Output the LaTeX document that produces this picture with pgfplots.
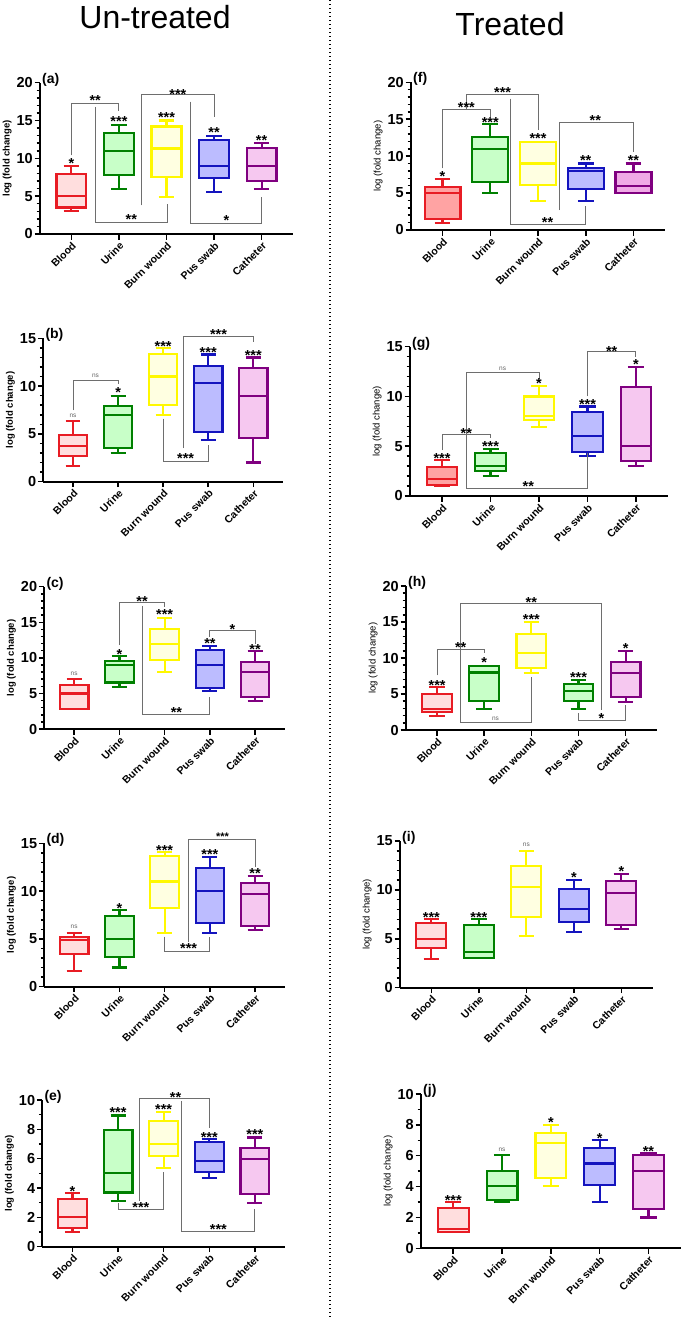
\documentclass[border=0pt]{standalone}
\usepackage{fontspec}
\setmainfont{Liberation Sans}
\usepackage{pgfplots}
\pgfplotsset{compat=1.18}
\usepgfplotslibrary{statistics}
\definecolor{rl}{RGB}{232,28,36}
\definecolor{rf}{RGB}{255,222,222}
\definecolor{rfd}{RGB}{255,163,163}
\definecolor{gl}{RGB}{0,128,0}
\definecolor{gf}{RGB}{200,255,200}
\definecolor{yl}{RGB}{255,248,0}
\definecolor{yf}{RGB}{255,255,225}
\definecolor{bl}{RGB}{20,20,190}
\definecolor{bf}{RGB}{188,188,255}
\definecolor{pl}{RGB}{128,0,128}
\definecolor{pf}{RGB}{246,200,240}
\definecolor{pfd}{RGB}{240,170,230}
\definecolor{brc}{RGB}{110,110,110}
\pgfplotsset{
  panel/.style={
    scale only axis,
    axis lines=left, axis line style={-, line width=1.8pt},
    xmin=-0.66, xmax=4.66, ymin=0, enlargelimits=false, clip=false,
    xtick={0,1,2,3,4}, xticklabels={Blood,Urine,Burn wound,Pus swab,Catheter},
    xticklabel style={rotate=45, anchor=north east, font=\bfseries\fontsize{10.5}{10.5}\selectfont, inner sep=1pt},
    yticklabel style={font=\bfseries\fontsize{14.5}{14.5}\selectfont, inner sep=1.5pt},
    /pgf/number format/assume math mode=true,
    tick align=outside, major tick length=5.5pt, minor tick length=3.5pt,
    every tick/.style={black, line width=1.5pt},
    ylabel={log (fold change)},
    ylabel style={font=\bfseries\fontsize{9.5}{9.5}\selectfont},
    boxplot/draw direction=y,
  },
  rightp/.style={ylabel style={font=\fontsize{9.5}{9.5}\selectfont}},
  y20/.style={ymax=20, ytick={0,5,10,15,20}, minor y tick num=4},
  y15/.style={ymax=15, ytick={0,5,10,15}, minor y tick num=4},
  y10/.style={ymax=10, ytick={0,2,4,6,8,10}, minor y tick num=1},
  bxs/.style={line width=2.2pt, boxplot/draw direction=y, boxplot/box extend=0.63, boxplot/whisker extend=0.33},
  R/.style={bxs, draw=rl, fill=rf},
  RD/.style={bxs, draw=rl, fill=rfd},
  G/.style={bxs, draw=gl, fill=gf},
  Y/.style={bxs, draw=yl, fill=yf},
  B/.style={bxs, draw=bl, fill=bf},
  P/.style={bxs, draw=pl, fill=pf},
  PD/.style={bxs, draw=pl, fill=pfd},
  brs/.style={draw=brc, line width=1pt, forget plot},
}
\tikzset{
  st/.style={font=\bfseries\fontsize{14.5}{14.5}\selectfont, anchor=base, yshift=-8.3pt, inner sep=0pt},
  sst/.style={font=\bfseries\fontsize{11}{11}\selectfont, anchor=base, yshift=-6.4pt, inner sep=0pt},
  nsl/.style={font=\fontsize{6.5}{6.5}\selectfont, text=black!60, anchor=center, inner sep=0pt},
  plab/.style={font=\bfseries\fontsize{14}{14}\selectfont, anchor=west, xshift=2pt, yshift=3pt, inner sep=0pt},
}
\newcommand\bx[7]{\addplot[#7, boxplot prepared={draw position=#1, lower whisker=#2, lower quartile=#3, median=#4, upper quartile=#5, upper whisker=#6}] coordinates {};}
\newcommand\st[3]{\node[st] at (axis cs:#1,#2) {#3};}
\newcommand\sst[3]{\node[sst] at (axis cs:#1,#2) {#3};}
\newcommand\ns[2]{\node[nsl] at (axis cs:#1,#2) {ns};}
\newcommand\br[1]{\addplot[brs] coordinates {#1};}
\begin{document}
\begin{tikzpicture}
\useasboundingbox (0pt,0pt) rectangle (685pt,-1317pt);
\fill[white] (0pt,0pt) rectangle (685pt,-1317pt);
\node[font=\fontsize{32}{32}\selectfont, anchor=base] at (155pt,-28pt) {Un-treated};
\node[font=\fontsize{32}{32}\selectfont, anchor=base] at (510pt,-35pt) {Treated};
\draw[line width=1.3pt, dash pattern=on 1.2pt off 2.8pt] (330pt,0pt) -- (330pt,-1317pt);

% (a)
\begin{axis}[panel, y20, at={(40pt,-234pt)}, anchor=south west, width=253pt, height=151.3pt]
\bx{0}{3}{3.5}{5}{7.9}{9.0}{R}
\bx{1}{6}{7.75}{11}{13.4}{14.4}{G}
\bx{2}{4.9}{7.5}{11.3}{14.2}{15.0}{Y}
\bx{3}{5.5}{7.4}{9.0}{12.4}{13.0}{B}
\bx{4}{6.0}{7.05}{9.0}{11.4}{12.0}{P}
\br{(0,10.4)(0,17.3)(1,17.3)(1,16.2)}
\br{(1.47,3.8)(1.47,18.4)(3,18.4)(3,15.5)}
\br{(0.5,16.8)(0.5,1.5)(2.02,1.5)(2.02,4.0)}
\br{(2.51,17.5)(2.51,1.4)(4,1.4)(4,4.9)}
\st{0}{9.8}{*}\st{1}{15.3}{***}\st{2}{15.9}{***}\st{3}{13.9}{**}\st{4}{12.8}{**}
\st{0.5}{18.1}{**}\st{2.24}{18.9}{***}\st{1.26}{2.3}{**}\st{3.26}{2.2}{*}
\node[plab] at (rel axis cs:0,1) {(a)};
\end{axis}

% (f)
\begin{axis}[panel, rightp, y20, at={(411pt,-230pt)}, anchor=south west, width=254pt, height=147.7pt]
\bx{0}{0.9}{1.5}{5.0}{5.8}{6.9}{RD, boxplot/box extend=0.75}
\bx{1}{5.0}{6.55}{11.0}{12.55}{14.3}{G, boxplot/box extend=0.75}
\bx{2}{3.9}{6.1}{9.0}{11.9}{11.9}{Y, boxplot/box extend=0.75}
\bx{3}{3.9}{5.5}{8.0}{8.35}{9.0}{B, boxplot/box extend=0.75}
\bx{4}{5.0}{5.05}{6.0}{7.8}{9.0}{PD, boxplot/box extend=0.75}
\br{(0,8.35)(0,16.3)(1,16.3)(1,15.35)}
\br{(0.5,16.3)(0.5,18.4)(2,18.4)(2,13.5)}
\br{(1.43,17.8)(1.43,0.8)(3,0.8)(3,3.25)}
\br{(2.44,2.7)(2.44,14.5)(4,14.5)(4,10.6)}
\st{0}{7.7}{*}\st{1}{15.0}{***}\st{2}{12.9}{***}\st{3}{9.9}{**}\st{4}{9.9}{**}
\st{0.5}{17.0}{***}\st{1.26}{19.05}{***}\st{2.2}{1.5}{**}\st{3.2}{15.25}{**}
\node[plab] at (rel axis cs:0,1) {(f)};
\end{axis}

% (b)
\begin{axis}[panel, y15, at={(43.3pt,-481.7pt)}, anchor=south west, width=239.7pt, height=143.4pt]
\bx{0}{1.67}{2.7}{3.7}{4.9}{6.35}{R}
\bx{1}{3.0}{3.55}{7.0}{7.9}{9.0}{G}
\bx{2}{7.0}{8.0}{11.0}{13.4}{14.0}{Y}
\bx{3}{4.35}{5.2}{10.35}{12.1}{13.3}{B}
\bx{4}{2.0}{4.6}{9.0}{11.9}{13.0}{P}
\br{(0,7.5)(0,10.6)(1,10.6)(1,10.2)}
\br{(2,6.6)(2,2.15)(3,2.15)(3,3.85)}
\br{(2.46,3.5)(2.46,15.2)(4,15.2)(4,14.65)}
\ns{0}{6.9}\st{1}{9.7}{*}\st{2}{14.5}{***}\st{3}{13.85}{***}\st{4}{13.5}{***}
\ns{0.5}{11.05}\st{2.5}{2.8}{***}\st{3.23}{15.7}{***}
\node[plab] at (rel axis cs:0,1) {(b)};
\end{axis}

% (g)
\begin{axis}[panel, rightp, y15, at={(410pt,-496pt)}, anchor=south west, width=258pt, height=149.3pt]
\bx{0}{1.04}{1.1}{1.7}{2.95}{3.6}{RD}
\bx{1}{2.0}{2.55}{3.05}{4.3}{4.7}{G}
\bx{2}{6.95}{7.6}{8.0}{10.0}{11.05}{Y}
\bx{3}{4.0}{4.4}{6.0}{8.45}{9.0}{B}
\bx{4}{3.0}{3.55}{5.0}{10.95}{13.0}{P}
\br{(0,4.6)(0,6.2)(1,6.2)(1,5.8)}
\br{(2,11.8)(2,12.4)(0.51,12.4)(0.51,0.77)(3,0.77)(3,4.3)}
\br{(3,10.0)(3,14.5)(4,14.5)(4,14.0)}
\st{0}{4.1}{***}\st{1}{5.3}{***}\st{2}{11.6}{*}\st{3}{9.5}{***}\st{4}{13.55}{*}
\st{0.5}{6.6}{**}\ns{1.25}{12.75}\st{1.78}{1.27}{**}\st{3.5}{14.9}{**}
\node[plab] at (rel axis cs:0,1) {(g)};
\end{axis}

% (c)
\begin{axis}[panel, y20, at={(44.3pt,-729pt)}, anchor=south west, width=240.7pt, height=142.3pt]
\bx{0}{2.76}{2.76}{5.0}{6.2}{7.0}{R}
\bx{1}{5.95}{6.55}{9.0}{9.55}{10.3}{G}
\bx{2}{7.96}{9.7}{12.0}{14.1}{15.65}{Y}
\bx{3}{5.35}{5.8}{9.0}{11.1}{11.65}{B}
\bx{4}{3.93}{4.55}{7.96}{9.37}{11.0}{P}
\br{(1,11.8)(1,17.75)(2,17.75)(2,17.2)}
\br{(1.51,17.3)(1.51,2.06)(3,2.06)(3,4.5)}
\br{(3,13.0)(3,13.8)(4,13.8)(4,12.0)}
\ns{0}{7.8}\st{1}{11.0}{*}\st{2}{16.5}{***}\st{3}{12.5}{**}\st{4}{11.7}{**}
\st{1.5}{18.45}{**}\st{2.26}{2.76}{**}\st{3.5}{14.5}{*}
\node[plab] at (rel axis cs:0,1) {(c)};
\end{axis}

% (h)
\begin{axis}[panel, rightp, y20, at={(406pt,-730pt)}, anchor=south west, width=250.7pt, height=144pt]
\bx{0}{2.0}{2.55}{2.9}{4.95}{6.0}{R}
\bx{1}{2.9}{4.07}{8.0}{8.9}{8.9}{G}
\bx{2}{7.96}{8.56}{10.65}{13.3}{15.05}{Y}
\bx{3}{2.9}{4.07}{5.46}{6.4}{6.95}{G}
\bx{4}{3.94}{4.54}{7.96}{9.4}{11.0}{P}
\br{(0,7.6)(0,11.25)(1,11.25)(1,10.65)}
\br{(3.49,2.8)(3.49,17.6)(0.5,17.6)(0.5,1.06)(2,1.06)(2,7.4)}
\br{(3,2.3)(3,1.3)(4,1.3)(4,3.47)}
\st{0}{6.7}{***}\st{1}{9.85}{*}\st{2}{15.8}{***}\st{3}{7.8}{***}\st{4}{11.8}{*}
\st{0.5}{11.9}{**}\st{2.0}{18.2}{**}\ns{1.24}{1.6}\st{3.49}{2.0}{*}
\node[plab] at (rel axis cs:0,1) {(h)};
\end{axis}

% (d)
\begin{axis}[panel, y15, at={(44.3pt,-986.7pt)}, anchor=south west, width=240.7pt, height=143.4pt]
\bx{0}{1.67}{3.42}{4.88}{5.23}{5.65}{R}
\bx{1}{2.0}{3.07}{5.0}{7.4}{8.0}{G}
\bx{2}{5.65}{8.2}{11.0}{13.7}{14.05}{Y}
\bx{3}{5.65}{6.7}{10.0}{12.45}{13.6}{B}
\bx{4}{5.93}{6.38}{9.66}{10.88}{11.6}{P}
\br{(2,5.23)(2,3.73)(3,3.73)(3,5.23)}
\br{(2.53,4.64)(2.53,15.45)(4,15.45)(4,12.55)}
\ns{0}{6.3}\st{1}{8.55}{*}\st{2}{14.55}{***}\st{3}{14.2}{***}\st{4}{12.2}{**}
\st{2.53}{4.3}{***}\sst{3.28}{15.95}{***}
\node[plab] at (rel axis cs:0,1) {(d)};
\end{axis}

% (i)
\begin{axis}[panel, rightp, y15, at={(400pt,-987.7pt)}, anchor=south west, width=252.7pt, height=146.7pt]
\bx{0}{2.93}{4.09}{4.98}{6.58}{6.99}{R}
\bx{1}{3.07}{3.07}{3.68}{6.41}{6.99}{G}
\bx{2}{5.32}{7.26}{10.33}{12.44}{14.0}{Y}
\bx{3}{5.66}{6.68}{8.01}{10.09}{11.0}{B}
\bx{4}{6.0}{6.41}{9.65}{10.94}{11.63}{P}
\st{0}{7.5}{***}\st{1}{7.5}{***}\ns{2}{14.6}\st{3}{11.6}{*}\st{4}{12.2}{*}
\node[plab] at (rel axis cs:0,1) {(i)};
\end{axis}

% (e)
\begin{axis}[panel, y10, at={(42.3pt,-1246.7pt)}, anchor=south west, width=242.7pt, height=146.7pt]
\bx{0}{1.0}{1.25}{2.0}{3.23}{3.64}{R}
\bx{1}{3.14}{3.7}{5.0}{7.95}{8.95}{G}
\bx{2}{5.35}{6.18}{7.0}{8.59}{9.16}{Y}
\bx{3}{4.66}{5.11}{5.82}{7.14}{7.32}{B}
\bx{4}{3.0}{3.59}{6.0}{6.75}{7.45}{P}
\br{(1,2.95)(1,2.57)(2,2.57)(2,5.11)}
\br{(1.48,3.14)(1.48,10.07)(3,10.07)(3,8.07)}
\br{(2.39,9.9)(2.39,1.07)(4,1.07)(4,2.6)}
\st{0}{4.0}{*}\st{1}{9.4}{***}\st{2}{9.6}{***}\st{3}{7.68}{***}\st{4}{7.85}{***}
\st{1.5}{2.9}{***}\st{2.26}{10.4}{**}\st{3.2}{1.4}{***}
\node[plab] at (rel axis cs:0,1) {(e)};
\end{axis}

% (j)
\begin{axis}[panel, rightp, y10, at={(421pt,-1248.3pt)}, anchor=south west, width=259.7pt, height=154.3pt]
\bx{0}{1.04}{1.04}{1.25}{2.6}{2.98}{R}
\bx{1}{2.98}{3.13}{4.04}{5.03}{6.03}{G}
\bx{2}{4.04}{4.54}{6.85}{7.45}{7.99}{Y}
\bx{3}{2.98}{4.08}{5.5}{6.48}{7.02}{B}
\bx{4}{2.0}{2.55}{5.03}{6.03}{6.16}{P}
\st{0}{3.3}{***}\ns{1}{6.4}\st{2}{8.35}{*}\st{3}{7.35}{*}\st{4}{6.5}{**}
\node[plab] at (rel axis cs:0,1) {(j)};
\end{axis}
\end{tikzpicture}
\end{document}
